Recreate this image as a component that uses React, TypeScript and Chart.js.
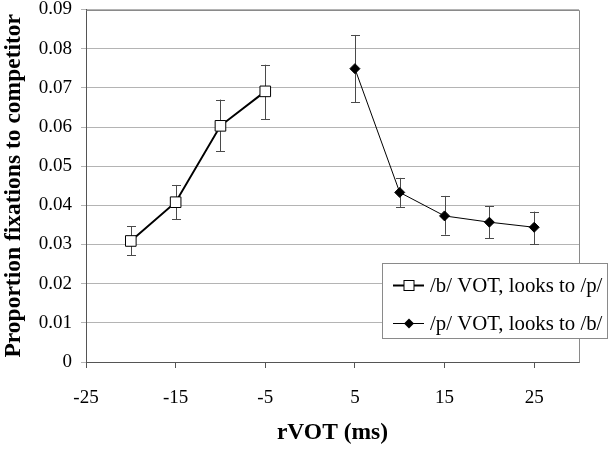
import React, { useEffect, useRef } from "react";
import { Chart, registerables } from "chart.js";

Chart.register(...registerables);

const bX = [-20, -15, -10, -5];
const bY = [0.0309, 0.0408, 0.0603, 0.0691];
const bLow = [0.0273, 0.0365, 0.0538, 0.0620];
const bHigh = [0.0347, 0.0452, 0.0670, 0.0759];

const pX = [5, 10, 15, 20, 25];
const pY = [0.0749, 0.0433, 0.0373, 0.0357, 0.0344];
const pLow = [0.0663, 0.0396, 0.0325, 0.0316, 0.0301];
const pHigh = [0.0835, 0.0470, 0.0424, 0.0398, 0.0384];

const xTicks = [-25, -15, -5, 5, 15, 25];
const yTicks = [0, 0.01, 0.02, 0.03, 0.04, 0.05, 0.06, 0.07, 0.08, 0.09];

const labels = ["/b/ VOT, looks to /p/", "/p/ VOT, looks to /b/"];
const FONT = "'Liberation Serif', 'Times New Roman', serif";

const errLows = [bLow, pLow];
const errHighs = [bHigh, pHigh];

export default function App() {
  const ref = useRef<HTMLCanvasElement | null>(null);
  useEffect(() => {
    document.body.style.margin = "0";
    const canvas = ref.current!;
    const errorBars = {
      id: "errorBars",
      beforeDatasetsDraw(chart: any) {
        const ctx = chart.ctx;
        const xs = chart.scales.x;
        const ys = chart.scales.y;
        ctx.save();
        ctx.strokeStyle = "#4a4a4a";
        ctx.lineWidth = 1;
        chart.data.datasets.forEach((ds: any, i: number) => {
          ds.data.forEach((pt: any, j: number) => {
            const x = Math.round(xs.getPixelForValue(pt.x)) + 0.5;
            const y1 = ys.getPixelForValue(errLows[i][j]);
            const y2 = ys.getPixelForValue(errHighs[i][j]);
            ctx.beginPath();
            ctx.moveTo(x, y1);
            ctx.lineTo(x, y2);
            ctx.moveTo(x - 4.5, Math.round(y1) + 0.5);
            ctx.lineTo(x + 4.5, Math.round(y1) + 0.5);
            ctx.moveTo(x - 4.5, Math.round(y2) + 0.5);
            ctx.lineTo(x + 4.5, Math.round(y2) + 0.5);
            ctx.stroke();
          });
        });
        ctx.restore();
      },
      afterDatasetsDraw(chart: any) {
        const ctx = chart.ctx;
        const a = chart.chartArea;
        ctx.save();
        ctx.strokeStyle = "#8a8a8a";
        ctx.lineWidth = 1;
        ctx.beginPath();
        ctx.moveTo(Math.round(a.left) + 0.5, Math.round(a.top) + 0.5);
        ctx.lineTo(Math.round(a.right) + 0.5, Math.round(a.top) + 0.5);
        ctx.lineTo(Math.round(a.right) + 0.5, Math.round(a.bottom) + 0.5);
        ctx.stroke();
        // legend
        const lx = 382.5, ly = 263.5, lw = 225, lh = 75;
        ctx.fillStyle = "#ffffff";
        ctx.fillRect(lx, ly, lw, lh);
        ctx.strokeStyle = "#8a8a8a";
        ctx.strokeRect(lx, ly, lw, lh);
        ctx.font = `20.8px ${FONT}`;
        ctx.textBaseline = "middle";
        ctx.textAlign = "left";
        const rows = [285, 323];
        chart.data.datasets.forEach((ds: any, i: number) => {
          const yy = rows[i] + 0.5;
          ctx.strokeStyle = "#000";
          ctx.lineWidth = ds.borderWidth;
          ctx.beginPath();
          ctx.moveTo(393, yy);
          ctx.lineTo(424, yy);
          ctx.stroke();
          if (i === 0) {
            ctx.fillStyle = "#fff";
            ctx.lineWidth = 1;
            ctx.fillRect(404, yy - 5, 10, 10);
            ctx.strokeRect(404, yy - 5, 10, 10);
          } else {
            ctx.fillStyle = "#000";
            ctx.beginPath();
            ctx.moveTo(409, yy - 5);
            ctx.lineTo(414, yy);
            ctx.lineTo(409, yy + 5);
            ctx.lineTo(404, yy);
            ctx.closePath();
            ctx.fill();
          }
          ctx.fillStyle = "#000";
          ctx.fillText(ds.label, 430, yy + 1);
        });
        ctx.restore();
      },
    };

    const chart = new Chart(canvas, {
      type: "scatter",
      data: {
        datasets: [
          {
            label: labels[0],
            data: bX.map((x, i) => ({ x, y: bY[i] })),
            showLine: true,
            borderColor: "#000",
            borderWidth: 2,
            pointStyle: "rect",
            pointRadius: 7.5,
            pointBackgroundColor: "#fff",
            pointBorderColor: "#000",
            pointBorderWidth: 1,
          },
          {
            label: labels[1],
            data: pX.map((x, i) => ({ x, y: pY[i] })),
            showLine: true,
            borderColor: "#000",
            borderWidth: 1,
            pointStyle: "rectRot",
            pointRadius: 5,
            pointBackgroundColor: "#000",
            pointBorderColor: "#000",
            pointBorderWidth: 1,
          },
        ],
      },
      options: {
        responsive: false,
        animation: false,
        devicePixelRatio: 1,
        layout: { padding: { left: 0, right: 32, top: 9.5, bottom: 0 } },
        plugins: { legend: { display: false }, tooltip: { enabled: false } },
        scales: {
          x: {
            type: "linear",
            min: -25,
            max: 30,
            afterBuildTicks: (s: any) => {
              s.ticks = xTicks.map((v) => ({ value: v }));
            },
            afterFit: (s: any) => {
              s.height = 88;
              s.paddingLeft = 0;
              s.paddingRight = 0;
            },
            grid: {
              drawOnChartArea: false,
              drawTicks: true,
              tickLength: 6,
              color: "#555",
            },
            border: { display: true, color: "#555", width: 1 },
            ticks: {
              font: { family: FONT, size: 19 },
              color: "#000",
              padding: 19,
              maxRotation: 0,
              autoSkip: false,
              callback: (v: any) => String(v),
            },
            title: {
              display: true,
              text: "rVOT (ms)",
              font: { family: FONT, size: 23.5, weight: "bold" },
              color: "#000",
              padding: { top: 0, bottom: 3 },
            },
          },
          y: {
            type: "linear",
            min: 0,
            max: 0.09,
            afterBuildTicks: (s: any) => {
              s.ticks = yTicks.map((v) => ({ value: v }));
            },
            afterFit: (s: any) => {
              s.width = 86;
              s.paddingTop = 0;
              s.paddingBottom = 0;
            },
            grid: {
              drawOnChartArea: true,
              drawTicks: true,
              tickLength: 5,
              color: "#b4b4b4",
            },
            border: { display: true, color: "#555", width: 1 },
            ticks: {
              font: { family: FONT, size: 19 },
              color: "#000",
              padding: 9,
              callback: (v: any) => (v === 0 ? "0" : Number(v).toFixed(2)),
            },
            title: {
              display: true,
              text: "Proportion fixations to competitor",
              font: { family: FONT, size: 23.5, weight: "bold" },
              color: "#000",
              padding: { top: 0, bottom: 0 },
            },
          },
        },
      },
      plugins: [errorBars],
    });
    return () => chart.destroy();
  }, []);
  return (
    <div style={{ width: 611, height: 450 }}>
      <canvas ref={ref} width={611} height={450} style={{ display: "block" }} />
    </div>
  );
}
